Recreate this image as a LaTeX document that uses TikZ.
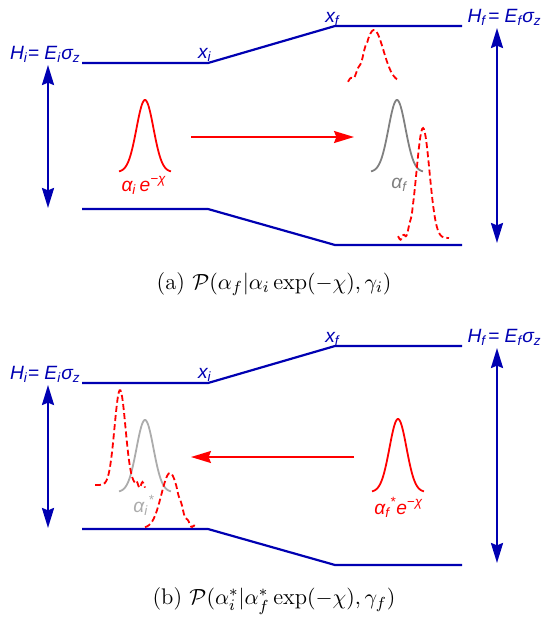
\documentclass[tikz,border=0pt]{standalone}
\usepackage{fontspec}
\newfontfamily\plotfont{Liberation Sans}
\usetikzlibrary{arrows.meta, positioning, calc}

\definecolor{levelblue}{RGB}{0,0,178}
\definecolor{pdfred}{RGB}{255,0,0}
\definecolor{pdfgray}{RGB}{128,128,128}
\definecolor{pdflightgray}{RGB}{172,172,172}

\begin{document}
\begin{tikzpicture}[
		x=0.5pt, y=-0.5pt,
		% --- ESTILOS ---
		level/.style = {draw=levelblue, line width=1.1pt},
		gap/.style = {draw=levelblue, line width=1.2pt, {Stealth[length=10pt, width=6pt, inset=1.2pt]}-{Stealth[length=10pt, width=6pt, inset=1.2pt]}},
		flow/.style = {draw=pdfred, line width=0.9pt, -{Stealth[length=10pt, width=6pt, inset=1.2pt]}},
		lbl/.style = {text=levelblue, font=\plotfont\itshape\fontsize{9.6}{11}\selectfont, inner sep=0pt},
		redlbl/.style = {text=pdfred, font=\plotfont\itshape\fontsize{9.6}{11}\selectfont, inner sep=0pt},
		graylbl/.style = {font=\plotfont\itshape\fontsize{9.6}{11}\selectfont, inner sep=0pt},
		pdf/.style = {draw=pdfred, line width=0.9pt},
		sim/.style = {draw=pdfred, line width=0.9pt, dash pattern=on 3pt off 1.6pt},
		capt/.style = {font=\fontsize{11.3}{13}\selectfont, inner sep=0pt}
		]
		\useasboundingbox (0,0) rectangle (544,617);
		
		% ===================== PANEL (a) =====================
		% --- NIVELES ---
		\coordinate (a-il) at (82,63);
		\coordinate (a-ir) at (208,63);
		\coordinate (a-fl) at (335,26);
		\coordinate (a-fr) at (462,26);
		\coordinate (a-gil) at (82,209);
		\coordinate (a-gir) at (208,209);
		\coordinate (a-gfl) at (335,245);
		\coordinate (a-gfr) at (462,245);
		
		\draw [level] (a-il) -- (a-ir) -- (a-fl) -- (a-fr);
		\draw [level] (a-gil) -- (a-gir) -- (a-gfl) -- (a-gfr);
		
		% --- ETIQUETAS DE NIVEL ---
		\node [lbl, anchor=base east] (a-hi) at (81,59) {H\textsubscript{i}= E\textsubscript{i}σ\textsubscript{z}};
		\node [lbl, anchor=base east] (a-xi) at (212,58) {x\textsubscript{i}};
		\node [lbl, anchor=base east] (a-xf) at (340,22.5) {x\textsubscript{f}};
		\node [lbl, anchor=base east] (a-hf) at (542,22.5) {H\textsubscript{f}\kern1pt= E\textsubscript{f}σ\textsubscript{z}};
		
		% --- FLECHAS DE SEPARACION ---
		\coordinate (a-gl-top) at (48,65);
		\coordinate (a-gl-bot) at (48,208);
		\coordinate (a-gr-top) at (497,28);
		\coordinate (a-gr-bot) at (497,243);
		\draw [gap] (a-gl-top) -- (a-gl-bot);
		\draw [gap] (a-gr-top) -- (a-gr-bot);
		
		% --- DISTRIBUCIONES ---
		\draw [pdf] plot[domain=-26:26, samples=80] ({145+\x}, {172-72*exp(-\x*\x/(2*72))});
		\draw [draw=pdfgray, line width=0.9pt] plot[domain=-26:26, samples=80] ({397+\x}, {172-72*exp(-\x*\x/(2*72))});
		\draw [sim] plot[domain=-26:24, samples=50] ({374+\x}, {82-52*exp(-\x*\x/(2*90))+(\x<-6)*1.5*sin(\x*50)});
		\draw [sim] plot[domain=-25:26, samples=60] ({423+\x}, {238-110*exp(-\x*\x/(2*42))+(\x<-11)*2*sin(\x*60)});
		
		\node [redlbl, anchor=base] (a-ai) at (144,191) {α\textsubscript{i}\,e\textsuperscript{−χ}};
		\node [graylbl, text=pdfgray, anchor=base west] (a-af) at (391,188) {α\textsubscript{f}};
		
		% --- TRANSFORMACION ---
		\coordinate (a-from) at (191,137);
		\coordinate (a-to) at (354,137);
		\draw [flow] (a-from) -- (a-to);
		
		\node [capt] (a-capt) at (274,284) {(a) $\mathcal{P}\bigl(\alpha_f|\alpha_i\exp(-\chi),\gamma_i\bigr)$};
		
		% ===================== PANEL (b) =====================
		% --- NIVELES ---
		\coordinate (b-il) at (82,383);
		\coordinate (b-ir) at (208,383);
		\coordinate (b-fl) at (335,346);
		\coordinate (b-fr) at (462,346);
		\coordinate (b-gil) at (82,529);
		\coordinate (b-gir) at (208,529);
		\coordinate (b-gfl) at (335,565);
		\coordinate (b-gfr) at (462,565);
		
		\draw [level] (b-il) -- (b-ir) -- (b-fl) -- (b-fr);
		\draw [level] (b-gil) -- (b-gir) -- (b-gfl) -- (b-gfr);
		
		% --- ETIQUETAS DE NIVEL ---
		\node [lbl, anchor=base east] (b-hi) at (81,379) {H\textsubscript{i}= E\textsubscript{i}σ\textsubscript{z}};
		\node [lbl, anchor=base east] (b-xi) at (212,378) {x\textsubscript{i}};
		\node [lbl, anchor=base east] (b-xf) at (340,342.5) {x\textsubscript{f}};
		\node [lbl, anchor=base east] (b-hf) at (542,342.5) {H\textsubscript{f}\kern1pt= E\textsubscript{f}σ\textsubscript{z}};
		
		% --- FLECHAS DE SEPARACION ---
		\coordinate (b-gl-top) at (48,385);
		\coordinate (b-gl-bot) at (48,528);
		\coordinate (b-gr-top) at (497,348);
		\coordinate (b-gr-bot) at (497,563);
		\draw [gap] (b-gl-top) -- (b-gl-bot);
		\draw [gap] (b-gr-top) -- (b-gr-bot);
		
		% --- DISTRIBUCIONES ---
		\draw [pdf] plot[domain=-26:26, samples=80] ({398+\x}, {492-73*exp(-\x*\x/(2*72))});
		\draw [draw=pdflightgray, line width=0.9pt] plot[domain=-26:26, samples=80] ({145+\x}, {492-72*exp(-\x*\x/(2*72))});
		\draw [sim] plot[domain=-25:25, samples=60] ({120+\x}, {485-95*exp(-\x*\x/(2*30))+(\x>15)*3*sin(\x*60)});
		\draw [sim] plot[domain=-25:25, samples=55] ({170+\x}, {528-55*exp(-\x*\x/(2*75))+(\x>7)*1.5*sin(\x*55)});
		
		\node [graylbl, text=pdflightgray, anchor=base west] (b-ai) at (133,512) {α\textsubscript{i}\textsuperscript{*}};
		\node [redlbl, anchor=base west] (b-af) at (374,514) {α\textsubscript{f}\textsuperscript{*}e\textsuperscript{−χ}};
		
		% --- TRANSFORMACION ---
		\coordinate (b-from) at (354,457);
		\coordinate (b-to) at (191,457);
		\draw [flow] (b-from) -- (b-to);
		
		\node [capt] (b-capt) at (274,601) {(b) $\mathcal{P}(\alpha_i^*|\alpha_f^*\exp(-\chi),\gamma_f)$};
		
	\end{tikzpicture}
\end{document}
